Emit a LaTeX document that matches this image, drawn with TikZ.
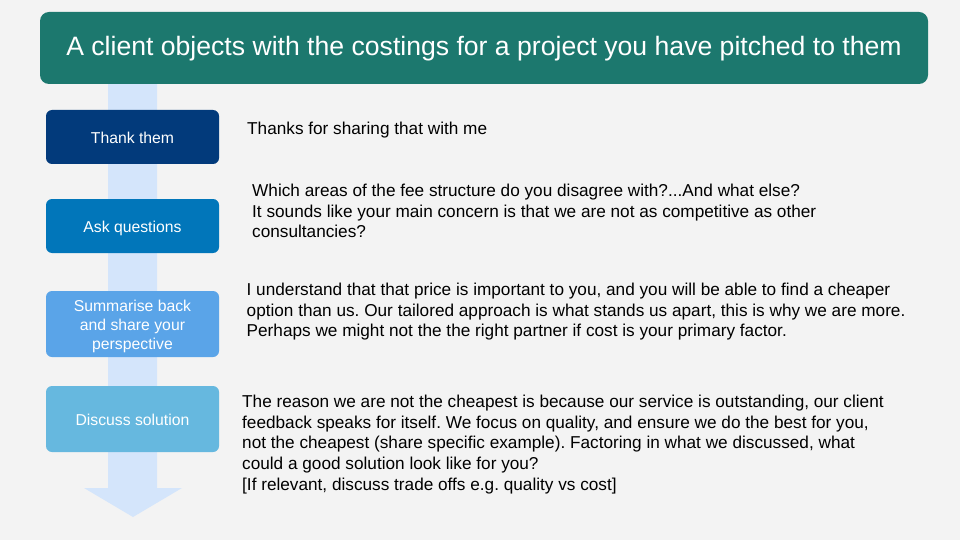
\documentclass[tikz,border=0pt]{standalone}
\usepackage{fontspec}
\setmainfont{Liberation Sans}
\frenchspacing
\definecolor{bg}{HTML}{F3F3F3}
\definecolor{teal}{HTML}{1C786E}
\definecolor{arrowc}{HTML}{D4E5FB}
\definecolor{c1}{HTML}{023A7B}
\definecolor{c2}{HTML}{0176BA}
\definecolor{c3}{HTML}{5AA4E8}
\definecolor{c4}{HTML}{66B8DF}
\begin{document}
\begin{tikzpicture}[x=1pt,y=-1pt,
  stepbox/.style={rounded corners=6pt, minimum width=173pt, text=white, align=center,
     font=\fontsize{15.75}{19}\selectfont, inner sep=0pt},
  oneline/.style={text height=14.4pt, text depth=1pt},
  body/.style={anchor=north west, align=left, inner sep=0pt, font=\fontsize{17.2}{20.7}\selectfont}]
\useasboundingbox (0,0) rectangle (960,540);
\fill[bg] (0,0) rectangle (960,540);
% arrow
\fill[arrowc] (108,84) -- (157,84) -- (157,488) -- (182,488) -- (133,517) -- (84,488) -- (108,488) -- cycle;
% title
\node[fill=teal, rounded corners=9pt, minimum width=888pt, minimum height=72pt, text=white,
  font=\fontsize{26.6}{30}\selectfont, inner sep=0pt, text height=19pt, text depth=4pt] (title) at (484,48)
  {A client objects with the costings for a project you have pitched to them};
% steps
\node[stepbox, oneline, fill=c1, minimum height=54pt] (s1) at (132.5,137) {Thank them};
\node[stepbox, oneline, fill=c2, minimum height=54pt] (s2) at (132.5,226) {Ask questions};
\node[stepbox, fill=c3, minimum height=66pt, text height=54.4pt, text depth=4pt] (s3) at (132.5,324) {Summarise back\\and share your\\perspective};
\node[stepbox, oneline, fill=c4, minimum height=66pt] (s4) at (132.5,419) {Discuss solution};
% texts
\node[body] (t1) at (247,121.7) {Thanks for sharing that with me};
\node[body] (t2) at (252,183.7) {Which areas of the fee structure do you disagree with?...And what else?\\It sounds like your main concern is that we are not as competitive as other\\consultancies?};
\node[body] (t3) at (246.5,282.7) {I understand that that price is important to you, and you will be able to find a cheaper\\option than us. Our tailored approach is what stands us apart, this is why we are more.\\Perhaps we might not the the right partner if cost is your primary factor.};
\node[body] (t4) at (242,394.7) {The reason we are not the cheapest is because our service is outstanding, our client\\feedback speaks for itself. We focus on quality, and ensure we do the best for you,\\not the cheapest (share specific example). Factoring in what we discussed, what\\could a good solution look like for you?\\{[}If relevant, discuss trade offs e.g. quality vs cost{]}};
\end{tikzpicture}
\end{document}
